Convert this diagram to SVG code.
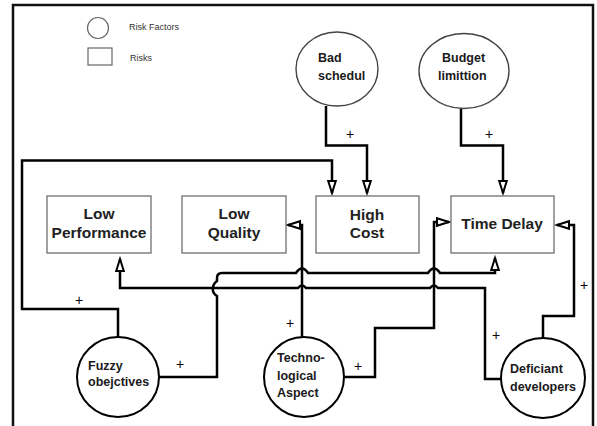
<svg xmlns="http://www.w3.org/2000/svg" width="597" height="426" viewBox="0 0 597 426">
<defs>
<style>
.frame{fill:none;stroke:#111;stroke-width:2.5}
.box{fill:#fff;stroke:#7a7a7a;stroke-width:1.4}
.topc{fill:#fff;stroke:#444;stroke-width:1.4}
.botc{fill:#fff;stroke:#000;stroke-width:2}
.lg{fill:#fff;stroke:#666;stroke-width:1.2}
.lgt{font-family:"Liberation Sans",Arial,sans-serif;font-size:9px;fill:#333}
.bt{font-family:"Liberation Sans",Arial,sans-serif;font-size:15.5px;font-weight:bold;fill:#222;text-anchor:middle}
.ct{font-family:"Liberation Sans",Arial,sans-serif;font-size:12.5px;font-weight:bold;fill:#1a1a1a}
.pl{font-family:"Liberation Sans",Arial,sans-serif;font-size:14px;fill:#000;text-anchor:middle}
.c{fill:none;stroke:#000;stroke-width:2.5}
.a{marker-end:url(#arr)}
</style>
<marker id="arr" markerUnits="userSpaceOnUse" markerWidth="16" markerHeight="12" refX="13" refY="5" orient="auto" overflow="visible">
<path d="M1,1.2 L13,5 L1,8.8 z" fill="#fff" stroke="#000" stroke-width="2"/>
</marker>
</defs>
<rect x="0" y="0" width="597" height="426" fill="#fff"/>
<rect class="frame" x="13" y="5" width="580" height="440"/>

<g id="legend">
<circle class="lg" cx="98" cy="28" r="10.5"/>
<text class="lgt" x="129" y="30">Risk Factors</text>
<rect class="lg" x="88" y="48" width="24" height="17"/>
<text class="lgt" x="130" y="61">Risks</text>
</g>

<g id="connectors">
<path class="c a" d="M326,106 V145.5 H367 V193"/>
<path class="c a" d="M461,108 V145.5 H503 V193"/>
<path class="c a" d="M118,337 V309 H22 V160.5 H332 V193"/>
<path class="c a" d="M159,377 H217 V296 Q212,293 213,288 Q213,284 217,281 V278 Q217,273 222,273 H296 Q302,264 308,273 H428 Q434,264 440,273 H495 V258"/>
<path class="c a" d="M302,337 V225 H288"/>
<path class="c a" d="M344,377 H375 V328 H434 V222 H449"/>
<path class="c a" d="M501,379 H485 V288 H438 Q434,283 430,288 H306 Q302,283 298,288 H120 V259"/>
<path class="c a" d="M543,338 V316 H574 V225 H557"/>
<text class="pl" x="350" y="139">+</text>
<text class="pl" x="489" y="139">+</text>
<text class="pl" x="79" y="305">+</text>
<text class="pl" x="180" y="369">+</text>
<text class="pl" x="290" y="328">+</text>
<text class="pl" x="358" y="371">+</text>
<text class="pl" x="496" y="340">+</text>
<text class="pl" x="584" y="290">+</text>
</g>

<g id="low-performance">
<rect class="box" x="47" y="196" width="104" height="57"/>
<text class="bt" x="99" y="219">Low</text>
<text class="bt" x="99" y="238">Performance</text>
</g>
<g id="low-quality">
<rect class="box" x="182" y="196" width="104" height="57"/>
<text class="bt" x="234" y="219">Low</text>
<text class="bt" x="234" y="238">Quality</text>
</g>
<g id="high-cost">
<rect class="box" x="316" y="196" width="103" height="57"/>
<text class="bt" x="367" y="220">High</text>
<text class="bt" x="367" y="238">Cost</text>
</g>
<g id="time-delay">
<rect class="box" x="451" y="196" width="103" height="57"/>
<text class="bt" x="502" y="229">Time Delay</text>
</g>

<g id="bad-schedul">
<ellipse class="topc" cx="337" cy="69" rx="41" ry="37"/>
<text class="ct" x="318" y="62">Bad</text>
<text class="ct" x="318" y="80">schedul</text>
</g>
<g id="budget-limittion">
<ellipse class="topc" cx="464" cy="71" rx="45" ry="37.5"/>
<text class="ct" x="442" y="62">Budget</text>
<text class="ct" x="438" y="80">limittion</text>
</g>
<g id="fuzzy-objectives">
<ellipse class="botc" cx="118" cy="377" rx="41" ry="40"/>
<text class="ct" x="88" y="370">Fuzzy</text>
<text class="ct" x="88" y="386">obejctives</text>
</g>
<g id="technological-aspect">
<ellipse class="botc" cx="304" cy="377" rx="40" ry="40"/>
<text class="ct" x="277" y="362">Techno-</text>
<text class="ct" x="277" y="380">logical</text>
<text class="ct" x="277" y="397">Aspect</text>
</g>
<g id="deficiant-developers">
<ellipse class="botc" cx="543" cy="378" rx="42" ry="40"/>
<text class="ct" x="510" y="373">Deficiant</text>
<text class="ct" x="510" y="391">developers</text>
</g>
</svg>
